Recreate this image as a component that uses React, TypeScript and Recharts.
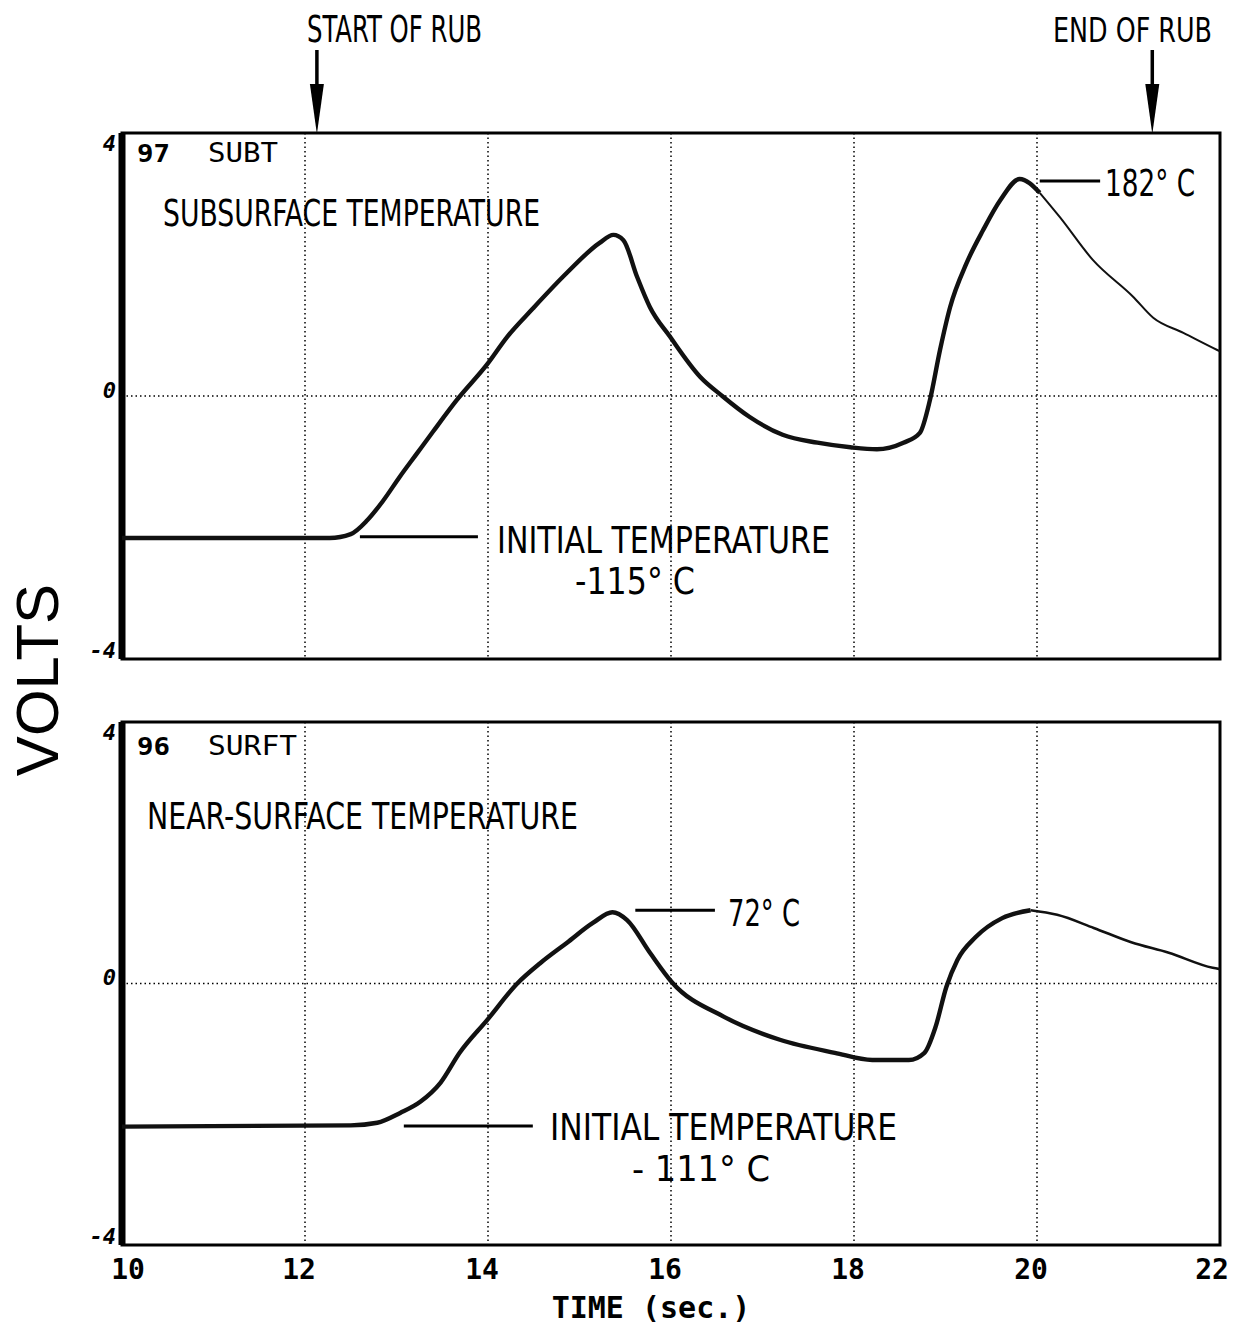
import React from "react";
import {
  LineChart,
  Line,
  XAxis,
  YAxis,
  CartesianGrid,
  ReferenceArea,
  ReferenceLine,
} from "recharts";

// Time axis (seconds) and voltage axis ticks
const timeTicks = [10, 12, 14, 16, 18, 20, 22];
const voltTicks = [-4, 0, 4];

// Channel 97 – subsurface thermocouple
const subTime = [
  10, 12.27, 12.5, 12.68, 12.85, 13.04, 13.22, 13.4, 13.66, 13.99, 14.21, 14.49,
  14.86, 15.22, 15.37, 15.48, 15.63, 15.77, 15.99, 16.32, 16.56, 16.86, 17.22,
  17.6, 17.96, 18.25, 18.54, 18.72, 18.83, 18.94, 19.05, 19.23, 19.41, 19.6,
  19.81, 20.03, 20.25, 20.61, 21.05, 21.27, 21.6, 21.97, 22,
];
const subVolts = [
  -2.16, -2.16, -2.1, -1.89, -1.6, -1.22, -0.88, -0.54, -0.06, 0.48, 0.9, 1.33,
  1.87, 2.33, 2.45, 2.37, 1.81, 1.35, 0.9, 0.29, 0.0, -0.32, -0.59, -0.71,
  -0.78, -0.81, -0.71, -0.56, -0.06, 0.7, 1.35, 2.02, 2.52, 2.98, 3.3, 3.09,
  2.72, 2.07, 1.51, 1.19, 0.96, 0.7, 0.68,
];

// Channel 96 – near-surface thermocouple
const surfTime = [
  10, 12.5, 12.79, 13.04, 13.26, 13.48, 13.69, 13.99, 14.32, 14.57, 14.86,
  15.15, 15.36, 15.52, 15.77, 16.01, 16.58, 17.19, 17.79, 18.2, 18.6, 18.77,
  18.89, 19.01, 19.13, 19.33, 19.62, 19.93, 20.22, 20.62, 21.03, 21.44, 21.92,
  22,
];
const surfVolts = [
  -2.19, -2.17, -2.13, -1.98, -1.81, -1.52, -1.06, -0.56, 0.0, 0.31, 0.62, 0.93,
  1.09, 0.97, 0.47, 0.02, -0.51, -0.86, -1.06, -1.17, -1.17, -1.06, -0.67,
  -0.05, 0.36, 0.71, 1.0, 1.12, 1.05, 0.85, 0.63, 0.47, 0.24, 0.22,
];

// Rub interval markers (seconds)
const rubStart = 12.13;
const rubEnd = 21.26;

const toRows = (t: number[], v: number[]) => t.map((x, i) => ({ t: x, v: v[i] }));
const subRows = toRows(subTime, subVolts);
const surfRows = toRows(surfTime, surfVolts);
// the pen trace thins out after the second peak
const subSplit = subTime.indexOf(20.03);
const surfSplit = surfTime.indexOf(19.93);

const W = 1243;
const PLOT_LEFT = 122;
const PLOT_RIGHT = 1220;
const pxOfTime = (t: number) => PLOT_LEFT + ((t - 10) * (PLOT_RIGHT - PLOT_LEFT)) / 12;

const LETTER = "'Liberation Sans Narrow', 'DejaVu Sans Condensed', 'Liberation Sans', sans-serif";
const PLOTTER = "'DejaVu Sans Mono', 'Liberation Mono', monospace";

const YTick = (props: any) => {
  const { x, y, payload } = props;
  const v = payload.value;
  const shift = v === 4 ? 10 : v === 0 ? -6 : -9;
  return (
    <text
      x={x - 4}
      y={y + shift}
      textAnchor="end"
      dominantBaseline="central"
      fontFamily={PLOTTER}
      fontWeight="bold"
      fontStyle="italic"
      fontSize={22}
      fill="#000"
    >
      {v}
    </text>
  );
};

const XTick = (props: any) => {
  const { x, y, payload } = props;
  const v = payload.value;
  const shift = v === 10 ? 6 : v === 22 ? -8 : -6;
  return (
    <text
      x={x + shift}
      y={y + 32}
      textAnchor="middle"
      fontFamily={PLOTTER}
      fontWeight="bold"
      fontSize={28}
      fill="#000"
    >
      {v}
    </text>
  );
};

const Frame = () => [
  <ReferenceArea
    key="frame"
    x1={10}
    x2={22}
    y1={-4}
    y2={4}
    fill="none"
    stroke="#000"
    strokeWidth={3}
    fillOpacity={0}
  />,
];

type PanelProps = {
  rows: { t: number; v: number }[];
  split: number;
  showTime: boolean;
  height: number;
  margin: { top: number; right: number; bottom: number; left: number };
  leaders: { x1: number; x2: number; y: number }[];
  thinWidth: number;
};

const Panel = ({ rows, split, showTime, height, margin, leaders, thinWidth }: PanelProps) => (
  <LineChart width={W} height={height} margin={margin}>
    <CartesianGrid stroke="#000" strokeDasharray="1.5 3" strokeWidth={1.5} />
    <XAxis
      dataKey="t"
      type="number"
      domain={[10, 22]}
      ticks={timeTicks}
      allowDataOverflow
      hide={!showTime}
      height={showTime ? 40 : 0}
      axisLine={false}
      tickLine={false}
      tickSize={0}
      tick={<XTick />}
      interval={0}
    />
    <YAxis
      type="number"
      domain={[-4, 4]}
      ticks={voltTicks}
      width={40}
      axisLine={false}
      tickLine={false}
      tickSize={0}
      tick={<YTick />}
      interval={0}
    />
    {Frame()}
    <ReferenceLine x={10} stroke="#000" strokeWidth={7} />
    {leaders.map((l, i) => (
      <ReferenceLine
        key={i}
        segment={[
          { x: l.x1, y: l.y },
          { x: l.x2, y: l.y },
        ]}
        stroke="#000"
        strokeWidth={3}
      />
    ))}
    <Line
      data={rows.slice(0, split + 1)}
      dataKey="v"
      type="monotone"
      stroke="#111"
      strokeWidth={4.4}
      dot={false}
      isAnimationActive={false}
    />
    <Line
      data={rows.slice(split)}
      dataKey="v"
      type="monotone"
      stroke="#111"
      strokeWidth={thinWidth}
      dot={false}
      isAnimationActive={false}
    />
  </LineChart>
);

const Lettered = ({
  x1,
  x2,
  base,
  children,
  size = 37,
  family = LETTER,
  weight = "normal",
}: {
  x1: number;
  x2: number;
  base: number;
  children: React.ReactNode;
  size?: number;
  family?: string;
  weight?: string;
}) => (
  <text
    x={x1}
    y={base}
    textLength={x2 - x1}
    lengthAdjust="spacingAndGlyphs"
    fontSize={size}
    fontFamily={family}
    fontWeight={weight}
    fill="#000"
  >
    {children}
  </text>
);

const Arrow = ({ t }: { t: number }) => {
  const x = pxOfTime(t);
  return (
    <g>
      <line x1={x} y1={50} x2={x} y2={90} stroke="#000" strokeWidth={3.5} />
      <polygon points={`${x - 7},${84} ${x + 7},${84} ${x},${134}`} fill="#000" />
    </g>
  );
};

export default function App() {
  return (
    <div style={{ position: "absolute", left: 0, top: 0, width: W, height: 1328, background: "#fff" }}>
      <div style={{ position: "absolute", left: 0, top: 0 }}>
        <Panel
          rows={subRows}
          split={subSplit}
          showTime={false}
          height={680}
          margin={{ top: 133, right: 23, bottom: 21, left: 82 }}
          leaders={[
            { x1: 20.03, x2: 20.69, y: 3.27 },
            { x1: 12.6, x2: 13.89, y: -2.14 },
          ]}
          thinWidth={2}
        />
      </div>
      <div style={{ position: "absolute", left: 0, top: 680 }}>
        <Panel
          rows={surfRows}
          split={surfSplit}
          showTime={true}
          height={648}
          margin={{ top: 42, right: 23, bottom: 43, left: 82 }}
          leaders={[
            { x1: 15.61, x2: 16.48, y: 1.12 },
            { x1: 13.08, x2: 14.49, y: -2.18 },
          ]}
          thinWidth={2.6}
        />
      </div>
      <svg
        width={W}
        height={1328}
        style={{ position: "absolute", left: 0, top: 0, pointerEvents: "none" }}
      >
        <Lettered x1={307} x2={482} base={42}>START OF RUB</Lettered>
        <Lettered x1={1053} x2={1212} base={42} size={33}>END OF RUB</Lettered>
        <Arrow t={rubStart} />
        <Arrow t={rubEnd} />

        <Lettered x1={137} x2={170} base={162} size={24} family={PLOTTER} weight="bold">97</Lettered>
        <Lettered x1={208} x2={278} base={162} size={26} family={PLOTTER}>SUBT</Lettered>
        <Lettered x1={163} x2={540} base={226}>SUBSURFACE TEMPERATURE</Lettered>
        <Lettered x1={1105} x2={1195} base={196}>182° C</Lettered>
        <Lettered x1={497} x2={830} base={553}>INITIAL TEMPERATURE</Lettered>
        <Lettered x1={575} x2={695} base={594}>-115° C</Lettered>

        <Lettered x1={137} x2={170} base={755} size={24} family={PLOTTER} weight="bold">96</Lettered>
        <Lettered x1={208} x2={297} base={755} size={26} family={PLOTTER}>SURFT</Lettered>
        <Lettered x1={147} x2={578} base={829}>NEAR-SURFACE TEMPERATURE</Lettered>
        <Lettered x1={728} x2={800} base={926}>72° C</Lettered>
        <Lettered x1={550} x2={897} base={1140}>INITIAL TEMPERATURE</Lettered>
        <Lettered x1={632} x2={770} base={1181} size={35}>- 111° C</Lettered>

        <text
          x={651}
          y={1318}
          textAnchor="middle"
          fontFamily={PLOTTER}
          fontWeight="bold"
          fontSize={30}
          fill="#000"
        >
          TIME (sec.)
        </text>
        <text
          transform="translate(58,680) rotate(-90)"
          textAnchor="middle"
          fontFamily="'Liberation Sans', Arial, sans-serif"
          fontSize={60}
          fill="#000"
        >
          VOLTS
        </text>
      </svg>
    </div>
  );
}
